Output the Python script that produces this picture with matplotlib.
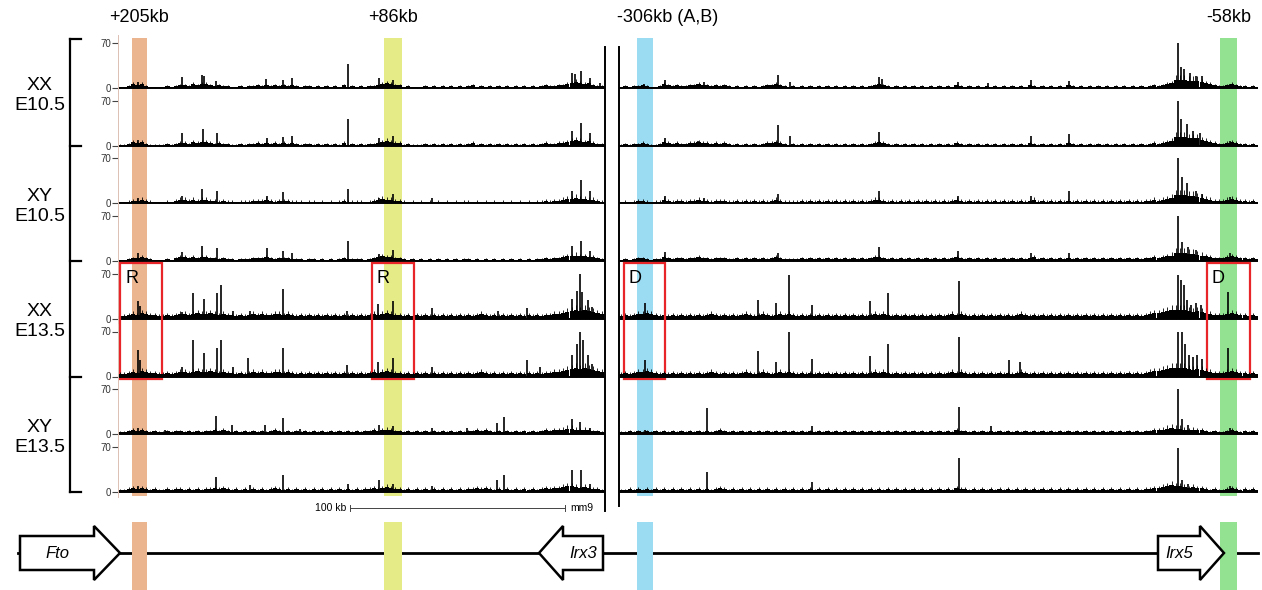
import numpy as np
import matplotlib.pyplot as plt
from matplotlib.patches import Rectangle, Polygon
from matplotlib.transforms import blended_transform_factory

plt.rcParams['font.family'] = ['Liberation Sans', 'DejaVu Sans']

# ---- data ------------------------------------------------------------
# panel spans in kb (mm9), left = Fto/Irx3 side, right = Irx3/Irx5 side
span_left = 226.5
span_right = 297.2

samples = ["XX\nE10.5", "XY\nE10.5", "XX\nE13.5", "XY\nE13.5"]

# low-level background signal, one digit per 2 kb bin
bg_xx105_left = ("11243" "42111" "12123" "32434" "43232" "21121" "22323" "23232"
                 "32122" "12121" "21312" "12122" "34543" "31211" "12121" "21212"
                 "12312" "12121" "21212" "12123" "22334" "56545" "322")
bg_xy105_left = ("11233" "43211" "12134" "43434" "43323" "22122" "23334" "32333"
                 "22212" "21212" "12322" "22123" "45443" "32121" "21212" "12121"
                 "22121" "21212" "12121" "21223" "23345" "56554" "432")
bg_xx135_left = ("33454" "65443" "34345" "54565" "56545" "44343" "45454" "45545"
                 "43434" "34343" "43434" "34345" "45654" "43434" "34343" "43434"
                 "34345" "43434" "34343" "43434" "45567" "89898" "765")
bg_xy135_left = ("22343" "43232" "23233" "23232" "33434" "32323" "23232" "34323"
                 "23232" "32323" "23232" "32334" "34543" "32323" "23232" "32323"
                 "23343" "43232" "32323" "23234" "34456" "65454" "332")

bg_xx105_right = ("12122" "32112" "43232" "23343" "32323" "21212" "12123" "34321"
                  "21212" "12121" "21212" "12123" "43212" "12121" "21212" "12132"
                  "12121" "21212" "12121" "32121" "21213" "21212" "12121" "21212"
                  "12123" "23459" "99888" "65432" "23432" "2121")
bg_xy105_right = ("12123" "32122" "43233" "23343" "32333" "22323" "23232" "34322"
                  "22323" "23232" "32323" "23234" "43232" "32323" "23232" "32343"
                  "23232" "32323" "23232" "34232" "32323" "23232" "32323" "23232"
                  "32334" "34569" "99887" "65433" "34543" "3232")
bg_xx135_right = ("34345" "56543" "43434" "34343" "45434" "34345" "43454" "34545"
                  "43434" "34343" "43434" "34345" "45434" "34343" "43434" "34545"
                  "43434" "34343" "43454" "34343" "43434" "34343" "43434" "34343"
                  "43456" "67899" "99878" "76544" "45654" "4343")
bg_xy135_right = ("22323" "23232" "32323" "23232" "32343" "23232" "32323" "23232"
                  "32323" "23232" "32323" "23232" "32323" "23232" "32323" "23243"
                  "32323" "23232" "32323" "23232" "32323" "23232" "32323" "23232"
                  "32334" "45676" "65454" "43232" "23432" "3232")

# peaks (kb, signal) per track, left panel
peaks_left_1 = [(9.3, 9), (29.8, 17), (39.1, 20), (40.0, 19), (45.6, 11), (68.8, 14),
                (76.7, 12), (80.9, 15), (107, 38), (121.4, 15), (127.9, 12),
                (211.2, 24), (212.6, 22), (215.3, 27), (219.5, 15), (224.2, 8)]
peaks_left_2 = [(9.3, 9), (29.8, 19), (39.5, 26), (46, 19), (69.3, 12), (76.7, 14),
                (80.9, 15), (107, 41), (121.4, 12), (127.9, 15), (211.2, 23),
                (215.3, 36), (219.5, 19)]
peaks_left_3 = [(9.3, 9), (29.8, 12), (39.1, 22), (46, 20), (69.3, 12), (76.7, 17),
                (107, 23), (121.4, 9), (127.9, 15), (146, 8), (211.2, 19),
                (215.3, 36), (219.5, 20)]
peaks_left_4 = [(9.3, 12), (29.8, 14), (39.1, 23), (46, 20), (69.3, 20), (76.7, 15),
                (80.9, 13), (107, 32), (121.4, 11), (127.9, 18), (211.2, 23),
                (215.3, 32), (219.5, 15)]
peaks_left_5 = [(9.3, 28), (10.2, 20), (29.8, 11), (34.9, 40), (40, 31), (46, 40),
                (47.9, 53), (53.5, 12), (61.4, 12), (76.7, 46), (106.5, 12),
                (120.9, 23), (127.9, 28), (146, 17), (176.7, 12), (190.2, 17),
                (211.2, 31), (213.5, 44), (214.9, 70), (215.8, 42), (218.6, 30),
                (220.5, 19)]
peaks_left_6 = [(9.3, 42), (10.2, 25), (29.8, 15), (34.9, 57), (40, 36), (46, 45),
                (47.9, 57), (53.5, 15), (60.5, 29), (76.7, 45), (106.5, 18),
                (120.9, 23), (127.9, 29), (146, 15), (190.2, 25), (196.3, 15),
                (211.2, 34), (213.5, 51), (214.9, 70), (216.3, 57), (218.6, 34),
                (220.5, 20)]
peaks_left_7 = [(9.3, 9), (21.9, 6), (45.6, 29), (53, 15), (68.4, 15), (76.7, 25),
                (84.7, 8), (121.4, 14), (127.9, 12), (146, 9), (162.3, 9),
                (176.3, 17), (179.5, 26), (211.2, 23), (214.9, 19), (219.5, 9)]
peaks_left_8 = [(9.3, 9), (45.6, 23), (61.4, 10), (76.7, 27), (107, 12), (121.4, 19),
                (127.9, 12), (146, 9), (176.3, 19), (179.5, 27), (211.2, 34),
                (215.3, 34), (219.5, 12)]

# peaks (kb, signal) per track, right panel
peaks_right_1 = [(11.6, 6), (21.4, 12), (39.5, 9), (74, 20), (79.5, 9), (120.9, 17),
                 (122.3, 14), (157.7, 9), (171.6, 8), (191.6, 12), (209.3, 11),
                 (260, 70), (261.4, 32), (262.8, 29), (265.5, 24), (268.4, 19),
                 (271.2, 18), (284.2, 7)]
peaks_right_2 = [(21.4, 12), (36.7, 8), (74, 32), (79.5, 15), (120.9, 22), (191.6, 15),
                 (209.3, 18), (260, 70), (261.4, 41), (264.2, 34), (267, 23),
                 (270.2, 19), (284.2, 7)]
peaks_right_3 = [(21.4, 12), (39.5, 9), (74, 14), (120.9, 20), (157.7, 12), (191.6, 12),
                 (209.3, 19), (260, 70), (261.9, 41), (264.2, 31), (268.4, 20),
                 (271.2, 15), (284.2, 10)]
peaks_right_4 = [(21.4, 14), (74, 12), (120.9, 22), (157.7, 15), (191.6, 13),
                 (209.3, 12), (260, 70), (261.9, 30), (264.7, 22), (268.4, 17),
                 (284.2, 12)]
peaks_right_5 = [(12.1, 25), (64.7, 29), (73, 25), (79.1, 68), (89.8, 22), (116.7, 27),
                 (125.1, 40), (158.1, 59), (260, 68), (261.4, 60), (262.8, 53),
                 (264.2, 30), (266, 22), (268.4, 24), (270.7, 22), (283.3, 42)]
peaks_right_6 = [(12.1, 26), (64.7, 39), (73, 23), (79.1, 70), (89.8, 28), (116.7, 32),
                 (125.1, 51), (158.1, 61), (181.4, 26), (186.5, 23), (260, 70),
                 (261.9, 70), (263.3, 50), (265, 34), (267, 30), (269, 34), (271, 28),
                 (283.3, 44)]
peaks_right_7 = [(12.1, 7), (40.9, 41), (89.8, 12), (158.1, 43), (173, 12), (260, 70),
                 (261.9, 23), (264.7, 15), (284.2, 9)]
peaks_right_8 = [(40.9, 31), (89.8, 15), (158.1, 53), (260, 68), (261.9, 19),
                 (264.7, 12), (284.2, 9)]

# highlighted enhancers: (panel, kb start, kb end, colour, label)
bands = [("left", 6.5, 13.5, "#eab58f", "+205kb"),
         ("left", 123.7, 132.1, "#e5eb86", "+86kb"),
         ("right", 8.4, 15.8, "#9cdcf3", "-306kb (A,B)"),
         ("right", 279.5, 287.5, "#93e291", "-58kb")]

# boxed regions in XX E13.5: (panel, kb start, kb end, letter)
boxes = [("left", 1.0, 20.5, "R"), ("left", 118.0, 137.7, "R"),
         ("right", 2.3, 21.4, "D"), ("right", 273.5, 293.5, "D")]

# genes on the bottom schematic: (name, body start px, body end px, tip px)
genes = [("Fto", 20, 94, 120), ("Irx3", 603, 563, 539), ("Irx5", 1158, 1200, 1224)]

# ---- layout ----------------------------------------------------------
W, H = 1262, 590
PX_PER_KB = 2.15
BASE0, STEP = 88.0, 57.7
UNIT_PER_PX = 70 / 45.0
panels = {"left": (118, span_left), "right": (619, span_right)}

def rect(left, top, width, height):
    return [left / W, 1 - (top + height) / H, width / W, height / H]

def kb_to_px(panel, kb):
    return panels[panel][0] + kb * PX_PER_KB

fig = plt.figure(figsize=(W / 100, H / 100), dpi=100)

# background axes for coloured bands
band_axes = {}
for name, (x0, span) in panels.items():
    bax = fig.add_axes(rect(x0, 38, span * PX_PER_KB, 458))
    bax.set_xlim(0, span)
    bax.set_ylim(0, 1)
    bax.axis("off")
    band_axes[name] = bax
for panel, k0, k1, col, _ in bands:
    band_axes[panel].axvspan(k0, k1, color=col, lw=0)

bg_left = [bg_xx105_left, bg_xx105_left, bg_xy105_left, bg_xy105_left,
           bg_xx135_left, bg_xx135_left, bg_xy135_left, bg_xy135_left]
bg_right = [bg_xx105_right, bg_xx105_right, bg_xy105_right, bg_xy105_right,
            bg_xx135_right, bg_xx135_right, bg_xy135_right, bg_xy135_right]
pk_left = [peaks_left_1, peaks_left_2, peaks_left_3, peaks_left_4,
           peaks_left_5, peaks_left_6, peaks_left_7, peaks_left_8]
pk_right = [peaks_right_1, peaks_right_2, peaks_right_3, peaks_right_4,
            peaks_right_5, peaks_right_6, peaks_right_7, peaks_right_8]

track_axes = {"left": [], "right": []}
baselines = [BASE0 + i * STEP for i in range(8)]
for name, bgs, pks in [("left", bg_left, pk_left), ("right", bg_right, pk_right)]:
    x0, span = panels[name]
    for i in range(8):
        top = baselines[i] - 52.7
        ax = fig.add_axes(rect(x0, top, span * PX_PER_KB, STEP))
        ax.patch.set_visible(False)
        vals = np.array([int(c) for c in bgs[i]]) * 1.45
        centers = np.arange(len(vals)) * 2 + 1
        ax.bar(centers, vals, width=2.0, color="black", lw=0)
        ax.vlines(centers, 0, vals * 1.6, color="black", lw=0.6)
        pos = [p[0] for p in pks[i]]
        hts = [p[1] for p in pks[i]]
        ax.vlines(pos, 0, hts, color="black", lw=1.2)
        ax.axhline(0, color="black", lw=1.4)
        ax.set_xlim(0, span)
        ax.set_ylim(-5 * UNIT_PER_PX, 52.7 * UNIT_PER_PX)
        for s in ax.spines.values():
            s.set_visible(False)
        ax.set_xticks([])
        if name == "left":
            ax.spines["left"].set_visible(True)
            ax.spines["left"].set_color("#dcc0b2")
            ax.spines["left"].set_linewidth(0.7)
            ax.set_yticks([0, 70])
            ax.set_yticklabels(["0", "70"])
            ax.tick_params(axis="y", length=4, width=0.8, color="#444",
                           labelsize=7, labelcolor="#333", pad=1)
        else:
            ax.set_yticks([])
        track_axes[name].append(ax)

# red boxes around XX E13.5 tracks
box_top = baselines[4] - 56
box_bot = baselines[5] + 2.5
for panel, k0, k1, letter in boxes:
    ax = track_axes[panel][4]
    tr = blended_transform_factory(ax.transData, fig.transFigure)
    y0 = 1 - box_bot / H
    y1 = 1 - box_top / H
    ax.add_patch(Rectangle((k0, y0), k1 - k0, y1 - y0, transform=tr, fill=False,
                           edgecolor="#e8262a", lw=1.6, clip_on=False, zorder=10))
    ax.text(k0 + 2.3, 1 - (box_top + 16) / H, letter, transform=tr, fontsize=13,
            ha="left", va="center", zorder=11)

# ---- overlay: labels, brackets, separators, genes --------------------
ov = fig.add_axes([0, 0, 1, 1])
ov.set_xlim(0, W)
ov.set_ylim(H, 0)
ov.axis("off")
ov.patch.set_visible(False)

for panel, k0, k1, col, label in bands:
    xa, xb = kb_to_px(panel, k0), kb_to_px(panel, k1)
    if label.startswith("-306"):
        ov.text(xa - 20, 18, label, fontsize=13, ha="left", va="center")
    else:
        ov.text((xa + xb) / 2, 18, label, fontsize=13, ha="center", va="center")

# sample brackets
ticks_y = [baselines[0] - 49, baselines[1], baselines[3], baselines[5], baselines[7]]
ov.plot([70, 70], [ticks_y[0], ticks_y[-1]], color="black", lw=1.6)
for y in ticks_y:
    ov.plot([70, 81], [y, y], color="black", lw=1.6)
for g, lab in enumerate(samples):
    yc = (ticks_y[g] + ticks_y[g + 1]) / 2 + 3
    ov.text(40, yc, lab, fontsize=14, ha="center", va="center", linespacing=1.25)

# panel separators
ov.plot([605, 605], [47, 511], color="black", lw=1.4)
ov.plot([619, 619], [47, 506], color="black", lw=1.4)

# scale bar (100 kb)
sx0 = kb_to_px("left", 108)
sx1 = kb_to_px("left", 208)
ov.plot([sx0, sx1], [508, 508], color="#444", lw=0.7)
ov.plot([sx0, sx0], [505, 511], color="#444", lw=0.7)
ov.plot([sx1, sx1], [505, 511], color="#444", lw=0.7)
ov.text(sx0 - 4, 508, "100 kb", fontsize=7.5, ha="right", va="center")
ov.text(sx1 + 5, 508, "mm9", fontsize=7.5, ha="left", va="center")

# gene schematic
gy = 553
ov.plot([18, 1258], [gy, gy], color="black", lw=2, zorder=1)
for panel, k0, k1, col, _ in bands:
    xa, xb = kb_to_px(panel, k0), kb_to_px(panel, k1)
    ov.add_patch(Rectangle((xa, 522), xb - xa, 68, color=col, lw=0, zorder=2))
for name, b0, b1, tip in genes:
    pts = [(b0, gy - 17), (b1, gy - 17), (b1, gy - 27), (tip, gy),
           (b1, gy + 27), (b1, gy + 17), (b0, gy + 17)]
    ov.add_patch(Polygon(pts, closed=True, facecolor="white", edgecolor="black",
                         lw=1.8, joinstyle="miter", zorder=3))
    ov.text((b0 + b1) / 2, gy, name, fontsize=12, style="italic",
            ha="center", va="center", zorder=4)

fig.savefig("out.png", dpi=100)
